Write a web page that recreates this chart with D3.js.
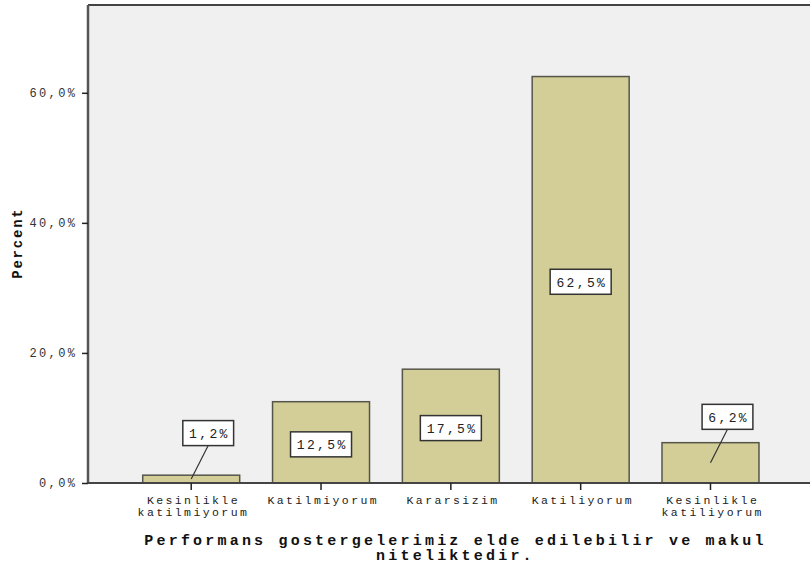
<!DOCTYPE html>
<html>
<head>
<meta charset="utf-8">
<script src="https://cdn.jsdelivr.net/npm/d3@7"></script>
<style>
  html, body { margin: 0; padding: 0; background: #ffffff; }
  svg { display: block; }
</style>
</head>
<body>
<svg id="chart" width="810" height="570"></svg>
<script>
// Response categories (two-line names split with "\n")
const categories = [
  "Kesinlikle\nkatilmiyorum",
  "Katilmiyorum",
  "Kararsizim",
  "Katiliyorum",
  "Kesinlikle\nkatiliyorum"
];
// Percent of respondents per category
const percents = [1.2, 12.5, 17.5, 62.5, 6.2];
// Y axis ticks
const yTicks = [0, 20, 40, 60];
const yMax = 73.5;

const axisTitleX = ["Performans gostergelerimiz elde edilebilir ve makul", "niteliktedir."];
const axisTitleY = "Percent";

const MONO = "Liberation Mono, DejaVu Sans Mono, monospace";

const svg = d3.select("#chart");
const plot = { left: 88, right: 810, top: 5, bottom: 483 };

const x = d3.scaleBand()
  .domain(categories)
  .range([126.3, 775.4])
  .paddingInner(0.253)
  .paddingOuter(0.1265);

const y = d3.scaleLinear().domain([0, yMax]).range([plot.bottom, plot.top]);

const fmtPct = v => d3.format(".1f")(v).replace(".", ",") + "%";

// typewriter-like spread: each text gets a fixed advance per character
const pitch = (sel, adv) => sel.each(function() {
  const n = this.textContent.length;
  d3.select(this).attr("textLength", n * adv - adv * 0.25).attr("lengthAdjust", "spacing");
});

// plot background
svg.append("rect")
  .attr("x", plot.left).attr("y", plot.top)
  .attr("width", plot.right - plot.left).attr("height", plot.bottom - plot.top)
  .attr("fill", "#f0f0f0");

// top frame line
svg.append("line")
  .attr("x1", plot.left).attr("x2", plot.right)
  .attr("y1", plot.top).attr("y2", plot.top)
  .attr("stroke", "#444").attr("stroke-width", 2);

// bars
svg.append("g").selectAll("rect")
  .data(categories)
  .join("rect")
  .attr("x", d => x(d))
  .attr("y", (d, i) => y(percents[i]))
  .attr("width", x.bandwidth())
  .attr("height", (d, i) => y(0) - y(percents[i]))
  .attr("fill", "#d3ce97")
  .attr("stroke", "#55554a")
  .attr("stroke-width", 1.5);

// y axis
const yAxis = svg.append("g")
  .attr("transform", `translate(${plot.left},0)`)
  .call(d3.axisLeft(y).tickValues(yTicks).tickSize(6).tickPadding(7).tickFormat(fmtPct));
yAxis.select(".domain")
  .attr("d", `M0,${plot.top}V${plot.bottom}`)
  .attr("stroke", "#555").attr("stroke-width", 2.5);
yAxis.selectAll(".tick line").attr("stroke", "#222").attr("stroke-width", 1.5);
yAxis.selectAll(".tick text")
  .attr("font-family", MONO)
  .attr("font-size", 12)
  .attr("fill", "#333")
  .call(pitch, 9.6);

// x axis
const xAxis = svg.append("g")
  .attr("transform", `translate(0,${plot.bottom})`)
  .call(d3.axisBottom(x).tickSize(7).tickFormat(""));
xAxis.select(".domain")
  .attr("d", `M${plot.left},0H${plot.right}`)
  .attr("stroke", "#444").attr("stroke-width", 2);
xAxis.selectAll(".tick line").attr("stroke", "#222").attr("stroke-width", 1.5);

// category labels
xAxis.selectAll(".tick").each(function(d) {
  const lines = d.split("\n");
  lines.forEach((ln, k) => {
    d3.select(this).append("text")
      .attr("x", 1).attr("y", 21 + k * 12)
      .attr("text-anchor", "middle")
      .attr("font-family", MONO)
      .attr("font-size", 11.5)
      .attr("fill", "#222")
      .text(ln)
      .call(pitch, 9.3);
  });
});

// value labels
const labelG = svg.append("g");
categories.forEach((c, i) => {
  const v = percents[i];
  const cx = x(c) + x.bandwidth() / 2;
  const top = y(v), bot = y(0);
  const midY = (top + bot) / 2;
  const inside = (bot - top) > 50;
  const g = labelG.append("g");
  let bx, by;
  if (inside) {
    bx = cx; by = midY + 2;
  } else {
    bx = cx + 17; by = midY - 46;
    g.append("line")
      .attr("x1", cx).attr("y1", midY)
      .attr("x2", bx).attr("y2", by + 12.5)
      .attr("stroke", "#333").attr("stroke-width", 1.2);
  }
  g.append("text")
    .attr("x", bx).attr("y", by + 5)
    .attr("text-anchor", "middle")
    .attr("font-family", MONO)
    .attr("font-size", 13)
    .attr("fill", "#222")
    .text(fmtPct(v))
    .call(pitch, 10.2);
  const w = fmtPct(v).length * 10.2 + 10;
  g.insert("rect", "text")
    .attr("x", bx - w / 2).attr("y", by - 12.5)
    .attr("width", w).attr("height", 25)
    .attr("fill", "#ffffff")
    .attr("stroke", "#333").attr("stroke-width", 1.5);
});

// axis titles
const midX = (x.range()[0] + x.range()[1]) / 2;
axisTitleX.forEach((ln, i) => {
  svg.append("text")
    .attr("x", midX + 3)
    .attr("y", 545 + i * 15)
    .attr("text-anchor", "middle")
    .attr("font-family", MONO)
    .attr("font-weight", "bold")
    .attr("font-size", 15)
    .attr("fill", "#111")
    .text(ln)
    .call(pitch, 12.2);
});

svg.append("text")
  .attr("transform", `translate(22,${(plot.top + plot.bottom) / 2}) rotate(-90)`)
  .attr("text-anchor", "middle")
  .attr("font-family", MONO)
  .attr("font-weight", "bold")
  .attr("font-size", 14)
  .attr("fill", "#111")
  .text(axisTitleY)
  .call(pitch, 10.3);
</script>
</body>
</html>
